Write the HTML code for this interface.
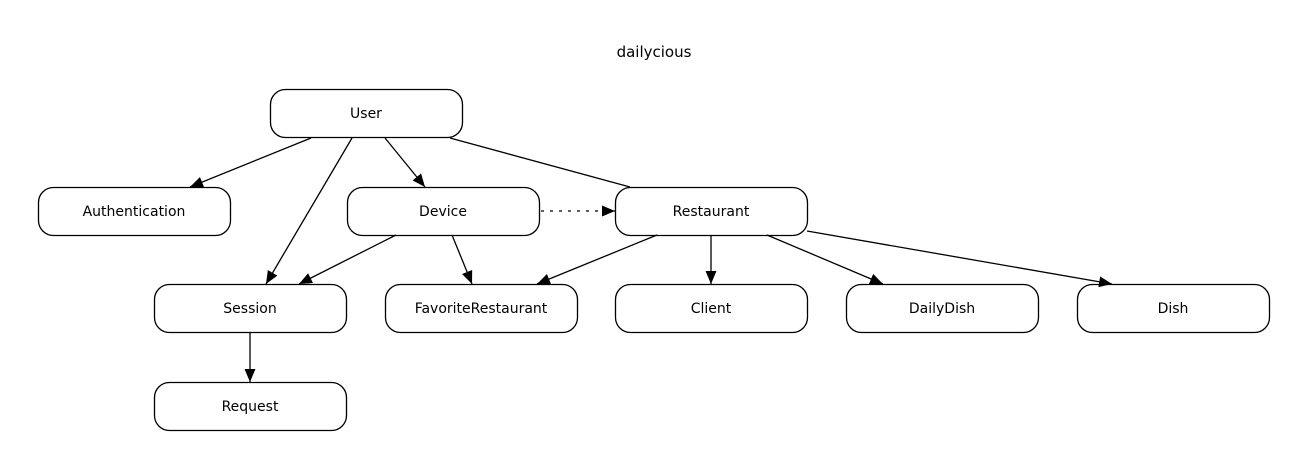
<!DOCTYPE html>
<html><head><style>
body{margin:0;background:#fff;}
svg text{font-family:"DejaVu Sans","Liberation Sans",sans-serif;font-size:14px;fill:#000;}
</style></head><body>
<svg width="1307" height="469" xmlns="http://www.w3.org/2000/svg">
<defs><marker id="a" viewBox="0 0 13 11" refX="13" refY="5.5" markerWidth="13" markerHeight="11" markerUnits="userSpaceOnUse" orient="auto"><path d="M0,0L13,5.5L0,11z" fill="#000"/></marker></defs>
<text x="654" y="57" text-anchor="middle" style="font-size:15px">dailycious</text>
<g fill="#fff" stroke="#000" stroke-width="1.3">
<rect x="270.5" y="89.5" width="192" height="48" rx="15"/>
<rect x="38.5" y="187.5" width="192" height="48" rx="15"/>
<rect x="347.5" y="187.5" width="192" height="48" rx="15"/>
<rect x="615.5" y="187.5" width="192" height="48" rx="15"/>
<rect x="154.5" y="284.5" width="192" height="48" rx="15"/>
<rect x="385.5" y="284.5" width="192" height="48" rx="15"/>
<rect x="615.5" y="284.5" width="192" height="48" rx="15"/>
<rect x="846.5" y="284.5" width="192" height="48" rx="15"/>
<rect x="1077.5" y="284.5" width="192" height="48" rx="15"/>
<rect x="154.5" y="382.5" width="192" height="48" rx="15"/>
</g>
<g stroke="#000" stroke-width="1.3" fill="none">
<line x1="311" y1="138" x2="190" y2="187" marker-end="url(#a)"/>
<line x1="352" y1="138" x2="266" y2="284" marker-end="url(#a)"/>
<line x1="385" y1="138" x2="425" y2="187" marker-end="url(#a)"/>
<line x1="450" y1="138" x2="630" y2="187"/>
<line x1="396" y1="235" x2="299" y2="284" marker-end="url(#a)"/>
<line x1="452" y1="235" x2="472" y2="284" marker-end="url(#a)"/>
<line x1="541" y1="211" x2="615" y2="211" stroke-dasharray="3,6" marker-end="url(#a)"/>
<line x1="657" y1="235" x2="537" y2="284" marker-end="url(#a)"/>
<line x1="711" y1="235" x2="711" y2="284" marker-end="url(#a)"/>
<line x1="767" y1="235" x2="883" y2="284" marker-end="url(#a)"/>
<line x1="807" y1="231" x2="1112" y2="284" marker-end="url(#a)"/>
<line x1="250" y1="332" x2="250" y2="382" marker-end="url(#a)"/>
</g>
<g text-anchor="middle">
<text x="366" y="118">User</text>
<text x="134" y="216">Authentication</text>
<text x="443" y="216">Device</text>
<text x="711" y="216">Restaurant</text>
<text x="250" y="313">Session</text>
<text x="481" y="313">FavoriteRestaurant</text>
<text x="711" y="313">Client</text>
<text x="942" y="313">DailyDish</text>
<text x="1173" y="313">Dish</text>
<text x="250" y="411">Request</text>
</g>
</svg>
</body></html>
